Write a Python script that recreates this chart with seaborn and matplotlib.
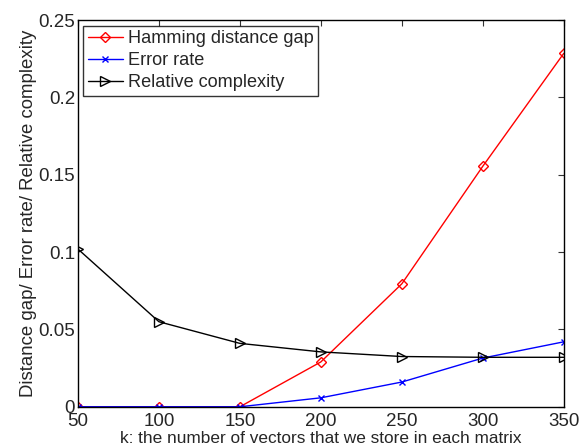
import matplotlib
matplotlib.use("Agg")
import matplotlib.pyplot as plt
import pandas as pd
import seaborn as sns

k_values = [50, 100, 150, 200, 250, 300, 350]
hamming_gap = [0.0, 0.0, 0.0, 0.029, 0.0795, 0.1555, 0.2285]
error_rate = [0.0, 0.0, 0.0, 0.0058, 0.016, 0.0315, 0.042]
relative_complexity = [0.102, 0.055, 0.041, 0.0355, 0.0325, 0.032, 0.032]

series_names = ["Hamming distance gap", "Error rate", "Relative complexity"]

df = pd.concat(
    [
        pd.DataFrame({"k": k_values, "value": vals, "series": name})
        for name, vals in zip(series_names, [hamming_gap, error_rate, relative_complexity])
    ],
    ignore_index=True,
)

sns.set_style("white")
plt.rcParams["font.family"] = ["Liberation Sans", "DejaVu Sans"]
fs = 13.5

fig = plt.figure(figsize=(5.86, 4.48), dpi=100)
ax = fig.add_axes([0.133, 0.092, 0.829, 0.863])

styles = {
    "Hamming distance gap": dict(color="red", marker="D", ms=5, mfc="none", mec="red", mew=1.0),
    "Error rate": dict(color="blue", marker="x", ms=4, mec="blue", mew=1.0),
    "Relative complexity": dict(color="black", marker=">", ms=7, mfc="none", mec="black", mew=1.0),
}

for name in series_names:
    sub = df[df["series"] == name]
    sns.lineplot(data=sub, x="k", y="value", ax=ax, label=name, lw=1.0, **styles[name])

ax.set_xlim(50, 350)
ax.set_ylim(0, 0.25)
ax.set_xticks(k_values)
ax.set_yticks([0, 0.05, 0.1, 0.15, 0.2, 0.25])
ax.set_yticklabels(["0", "0.05", "0.1", "0.15", "0.2", "0.25"])
ax.tick_params(direction="in", length=4, top=True, right=True, labelsize=fs, color="#333333")
ax.tick_params(axis="y", pad=2)
ax.tick_params(axis="x", pad=4.5)
for s in ax.spines.values():
    s.set_color("black")
    s.set_linewidth(1.0)

ax.set_xlabel("k: the number of vectors that we store in each matrix", fontsize=12.4, labelpad=1)
ax.set_ylabel("Distance gap/ Error rate/ Relative complexity", fontsize=13.4, labelpad=1)

leg = ax.legend(loc="upper left", fontsize=13.1, frameon=True, fancybox=False,
                borderaxespad=0.3, handlelength=1.9, handletextpad=0.3,
                labelspacing=0.28, borderpad=0.25)
leg.get_frame().set_edgecolor("black")
leg.get_frame().set_linewidth(1.0)

fig.savefig("out.png", dpi=100)
